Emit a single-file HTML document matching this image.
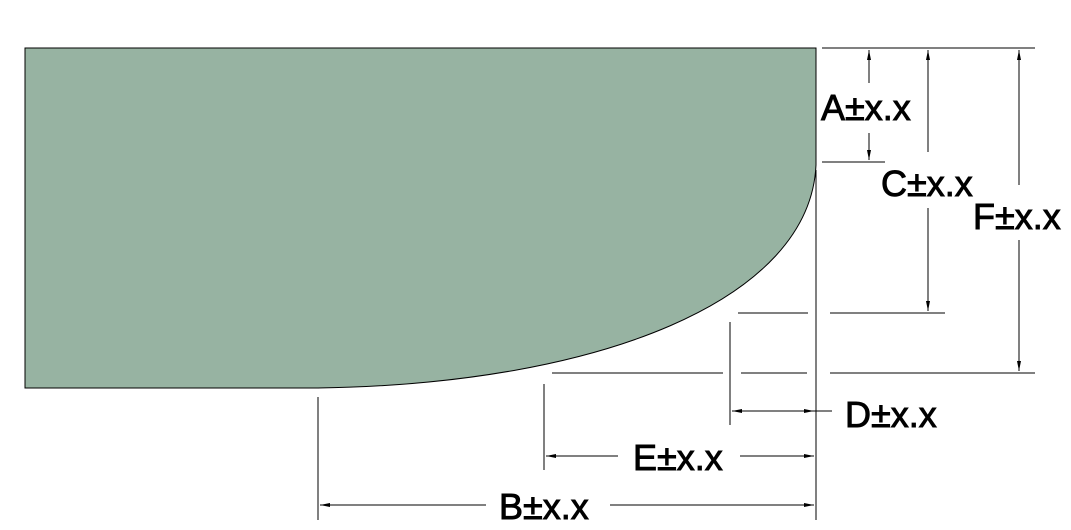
<!DOCTYPE html>
<html><head><meta charset="utf-8"><style>
html,body{margin:0;padding:0;background:#fff;width:1071px;height:530px;overflow:hidden}
svg text{font-family:"Liberation Sans",sans-serif;font-size:36px;fill:#000;stroke:#000;stroke-width:0.9}
</style></head><body>
<svg width="1071" height="530" viewBox="0 0 1071 530">
<defs>
<marker id="ar" viewBox="0 0 10 4" refX="10" refY="2" markerWidth="12" markerHeight="4" markerUnits="userSpaceOnUse" orient="auto"><path d="M0,0 L10,2 L0,4z" fill="#000"/></marker>
</defs>
<path d="M25,48 L816,48 L816,165 C810,300 600,384 318,388 L25,388 Z" fill="#97b3a2" stroke="#000" stroke-width="1"/>
<g stroke="#000" stroke-width="1" fill="none">
<line x1="822" y1="48" x2="1035" y2="48"/>
<line x1="822" y1="162" x2="885" y2="162"/>
<line x1="738" y1="313" x2="808" y2="313"/>
<line x1="830" y1="313" x2="945" y2="313"/>
<line x1="552" y1="373" x2="723" y2="373"/>
<line x1="741" y1="373" x2="807" y2="373"/>
<line x1="830" y1="373" x2="1035" y2="373"/>
<line x1="816" y1="170" x2="816" y2="520"/>
<line x1="318" y1="397" x2="318" y2="520"/>
<line x1="544" y1="384" x2="544" y2="470"/>
<line x1="730" y1="322" x2="730" y2="425"/>
<line x1="869" y1="83" x2="869" y2="50" marker-end="url(#ar)"/>
<line x1="869" y1="133" x2="869" y2="160" marker-end="url(#ar)"/>
<line x1="928" y1="152" x2="928" y2="50" marker-end="url(#ar)"/>
<line x1="928" y1="208" x2="928" y2="311" marker-end="url(#ar)"/>
<line x1="1019" y1="185" x2="1019" y2="50" marker-end="url(#ar)"/>
<line x1="1019" y1="240" x2="1019" y2="371" marker-end="url(#ar)"/>
<line x1="775" y1="411" x2="732" y2="411" marker-end="url(#ar)"/>
<line x1="770" y1="411" x2="814" y2="411" marker-end="url(#ar)"/>
<line x1="814" y1="411" x2="832" y2="411"/>
<line x1="618" y1="456" x2="546" y2="456" marker-end="url(#ar)"/>
<line x1="740" y1="456" x2="814" y2="456" marker-end="url(#ar)"/>
<line x1="486" y1="505" x2="320" y2="505" marker-end="url(#ar)"/>
<line x1="610" y1="505" x2="814" y2="505" marker-end="url(#ar)"/>
</g>
<text x="821" y="120">A±x.x</text>
<text x="881" y="196">C±x.x</text>
<text x="973" y="229">F±x.x</text>
<text x="845" y="427">D±x.x</text>
<text x="633" y="470">E±x.x</text>
<text x="499" y="519">B±x.x</text>
</svg>
</body></html>
